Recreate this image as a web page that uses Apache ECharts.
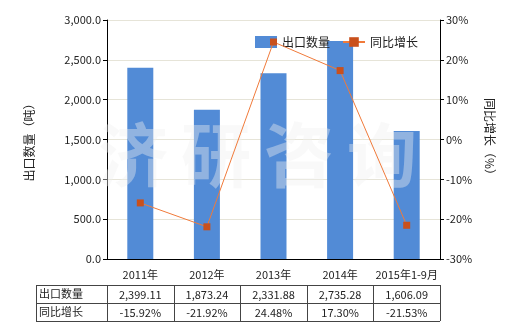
<!DOCTYPE html>
<html><head><meta charset="utf-8">
<script src="https://cdn.jsdelivr.net/npm/echarts@6/dist/echarts.min.js"></script>
<style>html,body{margin:0;padding:0;background:#fff}#c{width:520px;height:330px}</style>
</head><body><div id="c"></div>
<script>
var categories = ['2011年','2012年','2013年','2014年','2015年1-9月'];
var exportQty = [2399.11, 1873.24, 2331.88, 2735.28, 1606.09];
var growth = [-15.92, -21.92, 24.48, 17.30, -21.53];
var qtyLabels = ['2,399.11','1,873.24','2,331.88','2,735.28','1,606.09'];
var growthLabels = ['-15.92%','-21.92%','24.48%','17.30%','-21.53%'];
var seriesNames = ['出口数量','同比增长'];
var watermark = ['济','研','咨','询'];

var FONT = '"Noto Sans CJK SC", "Microsoft YaHei", sans-serif';
var G = {left:107, right:80, top:20, bottom:71};
var W = 520, H = 330;
var gw = W - G.left - G.right;
var cw = gw / categories.length;
var tableLeft = 36, rowH = 18, tableTop = 285;

function fmt(v){ return v.toFixed(1).replace(/\B(?=(\d{3})+(?!\d))/g, ','); }

var graphics = [];
// watermark
watermark.forEach(function(ch, i){
  graphics.push({type:'text', x:98 + i*83, y:120, z:5, silent:true,
    style:{text:ch, fontSize:70, fontWeight:'bold', fontFamily:FONT, fill:'rgba(240,240,240,0.4)'}});
});
// table
var tableRight = G.left + gw;
var lineStyle = {stroke:'#444', lineWidth:1};
for (var r=0;r<=2;r++){
  var y = tableTop + r*rowH + 0.5;
  graphics.push({type:'line', shape:{x1:tableLeft, y1:y, x2:tableRight, y2:y}, style:lineStyle});
}
var xs = [tableLeft];
for (var i=0;i<=categories.length;i++) xs.push(G.left + i*cw);
xs.forEach(function(x){
  x = Math.round(x)+0.5;
  graphics.push({type:'line', shape:{x1:x, y1:tableTop, x2:x, y2:tableTop+2*rowH}, style:lineStyle});
});
var rows = [qtyLabels, growthLabels];
rows.forEach(function(row, r){
  graphics.push({type:'text', x:tableLeft+3, y:tableTop + r*rowH + rowH/2,
    style:{text:seriesNames[r], fontSize:11, fontFamily:FONT, fill:'#222', verticalAlign:'middle', textAlign:'left'}});
  row.forEach(function(t, i){
    graphics.push({type:'text', x:G.left + (i+0.5)*cw, y:tableTop + r*rowH + rowH/2 + 1,
      style:{text:t, fontSize:11, fontFamily:FONT, fill:'#222', verticalAlign:'middle', textAlign:'center'}});
  });
});

var chart = echarts.init(document.getElementById('c'), null, {renderer:'canvas'});
chart.setOption({
  animation:false,
  textStyle:{fontFamily:FONT},
  grid:{left:G.left, right:G.right, top:G.top, bottom:G.bottom, containLabel:false},
  legend:{
    top:31, left:250, itemGap:12, itemWidth:22, itemHeight:12,
    textStyle:{fontSize:12, color:'#222', fontFamily:FONT},
    data:[{name:seriesNames[0], icon:'rect'}, {name:seriesNames[1]}]
  },
  xAxis:{
    type:'category', data:categories,
    axisLine:{lineStyle:{color:'#000'}},
    axisTick:{alignWithLabel:true, length:4, lineStyle:{color:'#000'}},
    axisLabel:{color:'#222', fontSize:11, margin:10, interval:0}
  },
  yAxis:[{
    type:'value', min:0, max:3000, interval:500,
    name:'出口数量（吨）', nameLocation:'middle', nameGap:72, nameRotate:90,
    nameTextStyle:{fontSize:12, color:'#222'},
    axisLine:{show:true, lineStyle:{color:'#000'}},
    axisTick:{show:true, length:4, lineStyle:{color:'#000'}},
    axisLabel:{formatter:fmt, color:'#222', fontSize:11, margin:6},
    splitLine:{lineStyle:{color:'#e6e4d8'}}
  },{
    type:'value', min:-30, max:30, interval:10,
    name:'同比增长（%）', nameLocation:'middle', nameGap:44, nameRotate:-90,
    nameTextStyle:{fontSize:12, color:'#222'},
    axisLine:{show:true, lineStyle:{color:'#000'}},
    axisTick:{show:true, length:4, lineStyle:{color:'#000'}},
    axisLabel:{formatter:'{value}%', color:'#222', fontSize:11, margin:6},
    splitLine:{show:false}
  }],
  series:[{
    name:seriesNames[0], type:'bar', data:exportQty, barWidth:26, z:1,
    itemStyle:{color:'#528bd6'}
  },{
    name:seriesNames[1], type:'line', yAxisIndex:1, data:growth, z:10,
    symbol:'rect', symbolSize:7,
    lineStyle:{color:'#f07a3a', width:1},
    itemStyle:{color:'#c9501c'}
  }],
  graphic:graphics
});
</script>
</body></html>
